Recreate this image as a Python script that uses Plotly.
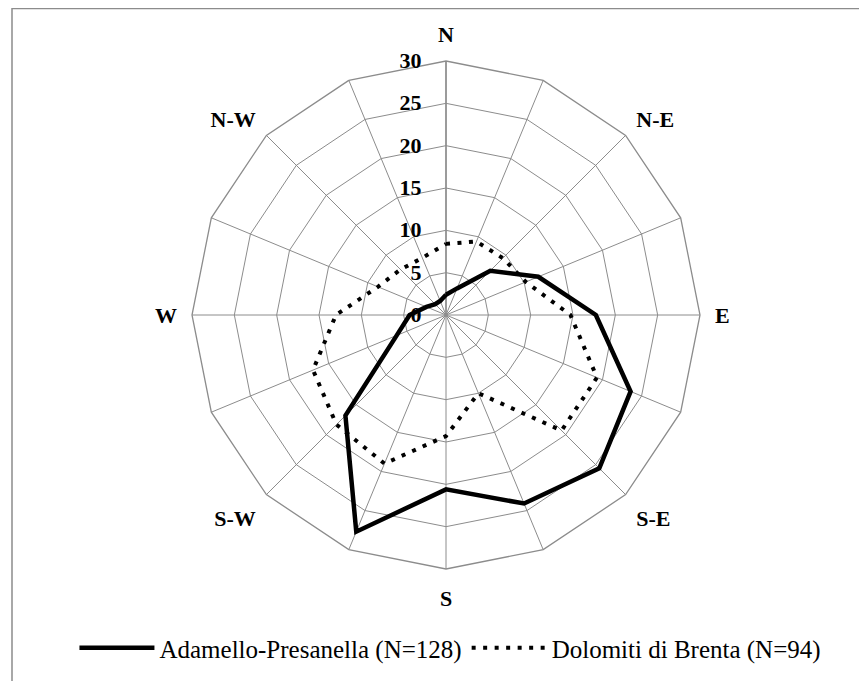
import plotly.graph_objects as go

directions = ["N", "NNE", "N-E", "ENE", "E", "ESE", "S-E", "SSE",
              "S", "SSW", "S-W", "WSW", "W", "WNW", "N-W", "NNW"]
tick_labels = ["N", "", "N-E", "", "E", "", "S-E", "",
               "S", "", "S-W", "", "W", "", "N-W", ""]

adamello = [2.4, 3.4, 7.4, 11.8, 17.7, 23.6, 25.6, 24.1,
            20.6, 27.7, 16.8, 6.3, 4.3, 2.5, 1.8, 1.8]
dolomiti = [8.4, 9.4, 9.5, 10.2, 14.7, 19.3, 19.3, 10.0,
            14.3, 19.0, 18.3, 17.0, 13.0, 8.7, 7.6, 7.3]

radial_ticks = [0, 5, 10, 15, 20, 25, 30]

FONT = "Liberation Serif"
W, H = 867, 681

fig = go.Figure()
fig.add_trace(go.Scatterpolar(
    r=adamello + adamello[:1], theta=directions + directions[:1],
    mode="lines", name="Adamello-Presanella (N=128)",
    line=dict(color="black", width=4.5)))
fig.add_trace(go.Scatterpolar(
    r=dolomiti + dolomiti[:1], theta=directions + directions[:1],
    mode="lines", name="Dolomiti di Brenta (N=94)",
    line=dict(color="black", width=4, dash="4px,7.5px")))

cx, cy, R = 438, 307, 254
fig.update_layout(
    width=W, height=H,
    margin=dict(l=0, r=0, t=0, b=0),
    paper_bgcolor="white", plot_bgcolor="white",
    font=dict(family=FONT, color="black"),
    polar=dict(
        domain=dict(x=[(cx - R) / W, (cx + R) / W],
                    y=[1 - (cy + R) / H, 1 - (cy - R) / H]),
        gridshape="linear",
        bgcolor="white",
        radialaxis=dict(
            range=[0, 30], tickvals=radial_ticks,
            angle=90, side="counterclockwise", tickangle=90,
            showline=True, linecolor="#8c8c8c", linewidth=1.5,
            gridcolor="#8c8c8c", gridwidth=1.3,
            ticks="outside", ticklen=16, tickcolor="rgba(0,0,0,0)",
            tickfont=dict(family=FONT, size=22, color="black", weight="bold"),
            layer="below traces"),
        angularaxis=dict(
            type="category", categoryarray=directions,
            rotation=90, direction="clockwise",
            tickmode="array", tickvals=directions, ticktext=tick_labels,
            showline=True, linecolor="#8c8c8c", linewidth=1.3,
            gridcolor="#8c8c8c", gridwidth=1.3,
            ticks="outside", ticklen=10, tickcolor="rgba(0,0,0,0)",
            tickfont=dict(family=FONT, size=22, color="black", weight="bold"),
            layer="below traces"),
    ),
    showlegend=True,
    legend=dict(orientation="h", x=0.944, xanchor="right", y=1 - 640 / H, yanchor="middle",
                itemwidth=75,
                font=dict(family=FONT, size=25, color="black"),
                bgcolor="rgba(0,0,0,0)"),
    shapes=[dict(type="rect", xref="paper", yref="paper",
                 x0=4 / W, x1=866 / W, y0=0.5 / H, y1=1 - 0.5 / H,
                 line=dict(color="#8c8c8c", width=1.5), fillcolor="rgba(0,0,0,0)")],
)

fig.write_html("out.html")
